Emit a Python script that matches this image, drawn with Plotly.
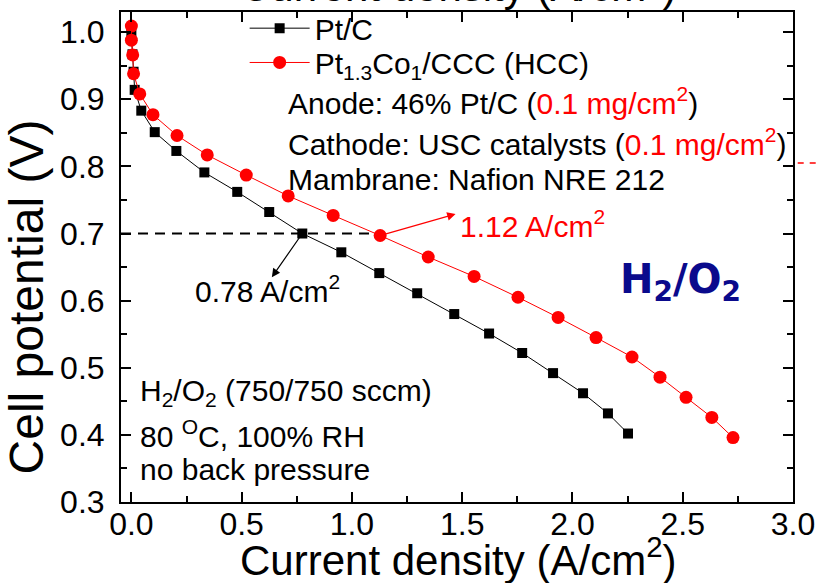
import plotly.graph_objects as go

# ---- data ----
ptc_j = [0.0, 0.005, 0.01, 0.015, 0.045, 0.106, 0.204, 0.331, 0.48, 0.625, 0.775,
         0.952, 1.124, 1.296, 1.464, 1.622, 1.772, 1.912, 2.048, 2.161, 2.252]
ptc_v = [0.998, 0.967, 0.941, 0.914, 0.883, 0.851, 0.823, 0.791, 0.762, 0.732, 0.70,
         0.672, 0.641, 0.611, 0.580, 0.551, 0.522, 0.492, 0.462, 0.432, 0.402]

hcc_j = [0.0, 0.0, 0.006, 0.01, 0.038, 0.098, 0.207, 0.344, 0.521, 0.711, 0.915,
         1.128, 1.346, 1.554, 1.753, 1.935, 2.107, 2.27, 2.397, 2.515, 2.632, 2.728]
hcc_v = [1.009, 0.988, 0.966, 0.938, 0.908, 0.877, 0.846, 0.817, 0.787, 0.756, 0.727,
         0.697, 0.665, 0.636, 0.605, 0.575, 0.545, 0.516, 0.486, 0.456, 0.426, 0.396]

series_names = ["Pt/C", "Pt<sub>1.3</sub>Co<sub>1</sub>/CCC (HCC)"]
x_ticks = [0.0, 0.5, 1.0, 1.5, 2.0, 2.5, 3.0]
y_ticks = [0.3, 0.4, 0.5, 0.6, 0.7, 0.8, 0.9, 1.0]
x_title = "Current density (A/cm<sup>2</sup>)"
y_title = "Cell potential (V)"
target_v = 0.7
ptc_at_target = 0.78
hcc_at_target = 1.12
ptc_arrow_tip = (0.637, 0.635)
hcc_arrow_tip = (1.47, 0.729)

FONT = "Liberation Sans, Arial, sans-serif"
RED = "#ff0000"
NAVY = "#0a0a8c"

fig = go.Figure()
fig.add_trace(go.Scatter(x=ptc_j, y=ptc_v, mode="lines+markers", name=series_names[0],
                         legend="legend",
                         line=dict(color="black", width=1),
                         marker=dict(symbol="square", size=10, color="black")))
fig.add_trace(go.Scatter(x=hcc_j, y=hcc_v, mode="lines+markers", name=series_names[1],
                         legend="legend2",
                         line=dict(color=RED, width=1),
                         marker=dict(symbol="circle", size=13, color=RED)))

xmin = -0.047
# dashed guide at 0.7 V
fig.add_shape(type="line", xref="x", yref="y", x0=xmin, x1=hcc_j[11], y0=target_v, y1=target_v,
              line=dict(color="black", width=2, dash="10px,7px"), layer="below")

# arrows
fig.add_annotation(x=ptc_arrow_tip[0], y=ptc_arrow_tip[1], ax=ptc_j[10], ay=ptc_v[10],
                   xref="x", yref="y", axref="x", ayref="y", text="", showarrow=True,
                   arrowhead=2, arrowsize=1.4, arrowwidth=1.2, arrowcolor="black", standoff=0)
fig.add_annotation(x=hcc_arrow_tip[0], y=hcc_arrow_tip[1], ax=hcc_j[11], ay=hcc_v[11],
                   xref="x", yref="y", axref="x", ayref="y", text="", showarrow=True,
                   arrowhead=2, arrowsize=1.4, arrowwidth=1.2, arrowcolor=RED, standoff=0)

def txt(x, y, s, color="black", size=30, xanchor="left", family=FONT):
    fig.add_annotation(x=x, y=y, xref="x", yref="y", text=s, showarrow=False,
                       xanchor=xanchor, yanchor="middle",
                       font=dict(family=family, size=size, color=color))

red = lambda s: f'<span style="color:{RED}">{s}</span>'
txt(0.702, 0.897, "Anode: 46% Pt/C (" + red("0.1 mg/cm<sup>2</sup>") + ")")
txt(0.702, 0.836, "Cathode: USC catalysts (" + red("0.1 mg/cm<sup>2</sup>") + ")")
txt(0.702, 0.780, "Mambrane: Nafion NRE 212")
txt(1.479, 0.714, f"{hcc_at_target:.2f} A/cm<sup>2</sup>", color=RED)
txt(0.281, 0.617, f"{ptc_at_target:.2f} A/cm<sup>2</sup>")
txt(2.207, 0.628, "<b>H<sub>2</sub>/O<sub>2</sub></b>", color=NAVY, size=40,
    family="DejaVu Sans, Verdana, sans-serif")
txt(0.032, 0.463, "H<sub>2</sub>/O<sub>2</sub> (750/750 sccm)")
txt(0.032, 0.402, "80 <sup>O</sup>C, 100% RH")
txt(0.032, 0.349, "no back pressure")

# axis titles
fig.add_annotation(x=0.5015, y=-0.112, xref="paper", yref="paper", text=x_title,
                   showarrow=False, xanchor="center", yanchor="middle",
                   font=dict(family=FONT, size=42, color="black"))
fig.add_annotation(x=0.5015, y=1.060, xref="paper", yref="paper", text=x_title,
                   showarrow=False, xanchor="center", yanchor="middle",
                   font=dict(family=FONT, size=42, color="black"))
fig.add_annotation(x=-0.141, y=0.418, xref="paper", yref="paper", text=y_title,
                   showarrow=False, xanchor="center", yanchor="middle", textangle=-90,
                   font=dict(family=FONT, size=48, color="black"))

# stray red dashes beyond right frame
fig.add_shape(type="line", xref="paper", yref="y", x0=1.007, x1=1.045, y0=0.805, y1=0.805,
              line=dict(color=RED, width=1.5, dash="6px,6px"))

axis_common = dict(showline=True, linecolor="black", linewidth=2, mirror="allticks",
                   ticks="inside", ticklen=10, tickwidth=1.5, tickcolor="black",
                   showgrid=False, zeroline=False, automargin=False,
                   tickfont=dict(family=FONT, size=32, color="black"))
fig.update_xaxes(range=[xmin, 3.0], tickvals=x_ticks, tickformat=".1f", ticklabelstandoff=-7,
                 minor=dict(dtick=0.25, tick0=0, ticks="inside", ticklen=6, tickwidth=1.5,
                            tickcolor="black"),
                 **axis_common)
fig.update_yaxes(range=[0.3, 1.03], tickvals=y_ticks, tickformat=".1f", ticklabelstandoff=8,
                 minor=dict(dtick=0.05, tick0=0.3, ticks="inside", ticklen=6, tickwidth=1.5,
                            tickcolor="black"),
                 **axis_common)

leg_common = dict(xanchor="left", yanchor="middle", bgcolor="rgba(0,0,0,0)",
                  itemwidth=60, font=dict(family=FONT, size=30, color="black"))
fig.update_layout(width=821, height=583,
                  margin=dict(l=121, r=28, t=12, b=81, autoexpand=False),
                  plot_bgcolor="white", paper_bgcolor="white",
                  showlegend=True,
                  legend=dict(x=0.184, y=0.967, **leg_common),
                  legend2=dict(x=0.184, y=0.897, **leg_common))

fig.write_html("out.html", config={"displayModeBar": False},
               post_script="document.body.style.margin='0px';document.body.style.overflow='hidden';")
